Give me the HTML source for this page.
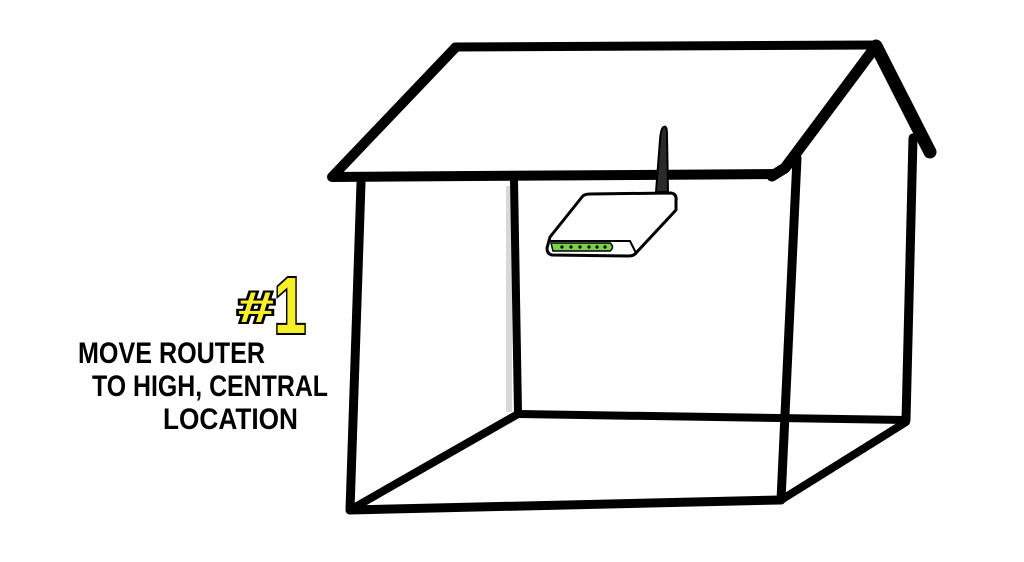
<!DOCTYPE html>
<html><head><style>
html,body{margin:0;padding:0;background:#fff;}
svg{display:block}
</style></head><body>
<svg width="1024" height="562" viewBox="0 0 1024 562" xmlns="http://www.w3.org/2000/svg">
<rect width="1024" height="562" fill="#fff"/>
<rect x="506" y="186" width="6" height="226" fill="#d8d8d8"/>
<g stroke="#000" stroke-linecap="round" stroke-linejoin="round" fill="none">
<path d="M455 47 L874 45" stroke-width="9"/>
<path d="M455 48 L332 177 L776 174" stroke-width="10"/>
<path d="M876 46 L785 168 L772 176" stroke-width="11"/>
<path d="M876 46 L930 152" stroke-width="13"/>
<path d="M361 183 L350 510" stroke-width="9"/>
<path d="M350 510 L780 500" stroke-width="9"/>
<path d="M797 158 L781 500" stroke-width="9"/>
<path d="M913 138 L906 420" stroke-width="9"/>
<path d="M518 414 L906 420" stroke-width="8"/>
<path d="M514 180 L518 412" stroke-width="8"/>
<path d="M350 510 L518 414" stroke-width="8"/>
<path d="M781 500 L906 422" stroke-width="8"/>
</g>
<path d="M664 127 Q667 125 667 135 L668 192 L656 192 L660 140 Q661 127 664 127Z" fill="#2a2a2a" stroke="#000" stroke-width="2"/>
<path d="M550 237 L582 197 Q584 194 590 194 L671 193 Q677 194 676 201 L676 210 L636 253 Q634 256 628 256 L552 255 Q547 254 547 248Z" fill="#fff" stroke="#000" stroke-width="3" stroke-linejoin="round"/>
<path d="M548 241 L630 241 L636 253" fill="none" stroke="#000" stroke-width="2"/>
<path d="M551 243 L610 243 Q615 247 610 251 L553 251 Z" fill="#7cd04a" stroke="#000" stroke-width="1.5"/>
<g fill="#000"><circle cx="562" cy="247" r="1.6"/><circle cx="571" cy="247" r="1.6"/><circle cx="580" cy="247" r="1.6"/><circle cx="589" cy="247" r="1.6"/><circle cx="597" cy="247" r="1.6"/><circle cx="605" cy="247" r="1.6"/></g>
<g font-family="Liberation Sans, sans-serif" font-weight="bold" fill="#f7ef2a" stroke="#000" stroke-width="4" paint-order="stroke">
<text x="238" y="322" font-size="44" textLength="36" lengthAdjust="spacingAndGlyphs">#</text>
<text x="274" y="333" font-size="80" textLength="32" lengthAdjust="spacingAndGlyphs">1</text>
</g>
<g font-family="Liberation Sans, sans-serif" font-weight="bold" font-size="30" fill="#000">
<text x="78" y="363" textLength="187" lengthAdjust="spacingAndGlyphs">MOVE ROUTER</text>
<text x="92" y="396" textLength="236" lengthAdjust="spacingAndGlyphs">TO HIGH, CENTRAL</text>
<text x="163" y="429" textLength="135" lengthAdjust="spacingAndGlyphs">LOCATION</text>
</g>
</svg>
</body></html>
